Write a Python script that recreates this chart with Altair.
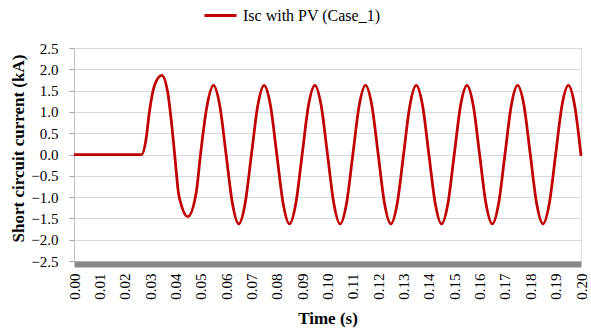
import altair as alt
import pandas as pd

# ---- data ----
time_s = [
    0.0000, 0.0050, 0.0100, 0.0150, 0.0200, 0.0250, 0.0267,
    0.0284, 0.0297, 0.0317, 0.0346, 0.0370, 0.0386, 0.0399, 0.0412,
    0.0422, 0.0449, 0.0482, 0.0500,
    0.0525, 0.0550, 0.0575, 0.0600, 0.0625, 0.0650, 0.0675, 0.0700,
    0.0725, 0.0750, 0.0775, 0.0800, 0.0825, 0.0850, 0.0875, 0.0900,
    0.0925, 0.0950, 0.0975, 0.1000, 0.1025, 0.1050, 0.1075, 0.1100,
    0.1125, 0.1150, 0.1175, 0.1200, 0.1225, 0.1250, 0.1275, 0.1300,
    0.1325, 0.1350, 0.1375, 0.1400, 0.1425, 0.1450, 0.1475, 0.1500,
    0.1525, 0.1550, 0.1575, 0.1600, 0.1625, 0.1650, 0.1675, 0.1700,
    0.1725, 0.1750, 0.1775, 0.1800, 0.1825, 0.1850, 0.1875, 0.1900,
    0.1925, 0.1950, 0.1975, 0.2000,
]
isc_ka = [
    0.00, 0.00, 0.00, 0.00, 0.00, 0.00, 0.00,
    0.35, 0.98, 1.61, 1.86, 1.45, 0.67, -0.12, -0.90,
    -1.16, -1.46, -0.90, 0.05,
    1.15, 1.62, 1.15, 0.00, -1.15, -1.63, -1.15, 0.00,
    1.15, 1.62, 1.15, 0.00, -1.15, -1.63, -1.15, 0.00,
    1.15, 1.62, 1.15, 0.00, -1.15, -1.63, -1.15, 0.00,
    1.15, 1.62, 1.15, 0.00, -1.15, -1.63, -1.15, 0.00,
    1.15, 1.62, 1.15, 0.00, -1.15, -1.63, -1.15, 0.00,
    1.15, 1.62, 1.15, 0.00, -1.15, -1.63, -1.15, 0.00,
    1.15, 1.62, 1.15, 0.00, -1.15, -1.63, -1.15, 0.00,
    1.15, 1.62, 1.15, -0.03,
]
series_name = "Isc with PV (Case_1)"
x_ticks = [0.00, 0.01, 0.02, 0.03, 0.04, 0.05, 0.06, 0.07, 0.08, 0.09, 0.10,
           0.11, 0.12, 0.13, 0.14, 0.15, 0.16, 0.17, 0.18, 0.19, 0.20]
y_ticks = [-2.5, -2.0, -1.5, -1.0, -0.5, 0.0, 0.5, 1.0, 1.5, 2.0, 2.5]

df = pd.DataFrame({"Time": time_s, "Isc": isc_ka, "Series": [series_name] * len(time_s)})

FONT = "Liberation Serif"

chart = alt.Chart(df).mark_line(
    interpolate="monotone", strokeWidth=2.75
).encode(
    x=alt.X(
        "Time:Q",
        scale=alt.Scale(domain=[0.0, 0.2], nice=False, zero=False),
        axis=alt.Axis(
            values=x_ticks, format=".2f", labelAngle=270, labelAlign="right",
            labelBaseline="middle", labelPadding=9, ticks=False, grid=False,
            domainColor="#898989", domainWidth=6, offset=3,
            labelFont=FONT, labelFontSize=15, labelColor="black",
            title="Time (s)", titleFont=FONT, titleFontSize=17, titleFontWeight="bold",
            titleColor="black", titleY=54, titleBaseline="middle", labelFlush=False,
            labelOverlap=False,
        ),
    ),
    y=alt.Y(
        "Isc:Q",
        scale=alt.Scale(domain=[-2.5, 2.5], nice=False, zero=False),
        axis=alt.Axis(
            values=y_ticks, format=".1f", tickSize=5, tickColor="#a6a6a6",
            domainColor="#bfbfbf", domainWidth=1, labelPadding=11,
            grid=True, gridColor="#d9d9d9", gridWidth=1,
            labelFont=FONT, labelFontSize=15, labelColor="black", labelFlush=False,
            labelOverlap=False,
            title="Short circuit current (kA)", titleFont=FONT, titleFontSize=17,
            titleFontWeight="bold", titleColor="black", titleAngle=270,
            titleX=-56, titleY=100, titleAlign="center", titleBaseline="middle",
        ),
    ),
    color=alt.Color(
        "Series:N",
        scale=alt.Scale(range=["#C00000"]),
        legend=alt.Legend(
            orient="none", legendX=129, legendY=-50, title=None,
            symbolType="stroke", symbolSize=1024, symbolStrokeWidth=3,
            labelFont=FONT, labelFontSize=16, labelColor="black", labelOffset=5,
            padding=0, labelLimit=400,
        ),
    ),
).properties(
    width=507,
    height=213,
    padding={"left": 74, "top": 48, "right": 10, "bottom": 68},
    autosize=alt.AutoSizeParams(type="none"),
    background="white",
).configure_view(
    stroke=None
).configure_axis(
    labelFont=FONT, titleFont=FONT
).configure_legend(
    labelFont=FONT
).configure(
    font=FONT
)

chart.save("out.html", embed_options={"renderer": "svg", "actions": False})
